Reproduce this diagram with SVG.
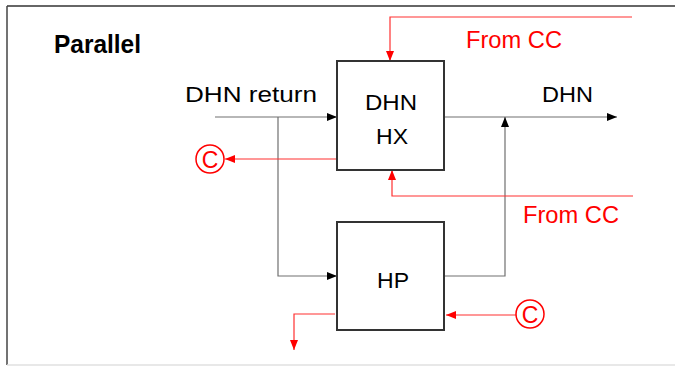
<svg xmlns="http://www.w3.org/2000/svg" width="675" height="366" viewBox="0 0 675 366">
<defs>
<marker id="ab" markerUnits="userSpaceOnUse" markerWidth="10" markerHeight="10" viewBox="0 0 10 10" refX="10" refY="5" orient="auto"><path d="M0,1 L10,5 L0,9 Z" fill="#000"/></marker>
<marker id="ar" markerUnits="userSpaceOnUse" markerWidth="10" markerHeight="10" viewBox="0 0 10 10" refX="10" refY="5" orient="auto"><path d="M0,1 L10,5 L0,9 Z" fill="#ff0000"/></marker>
</defs>
<style>
.t{font-family:"Liberation Sans",Arial,sans-serif;font-size:22px;fill:#000}
.r{font-family:"Liberation Sans",Arial,sans-serif;font-size:23px;fill:#ff0000}
.box{fill:#fff;stroke:#333;stroke-width:2}
.k{fill:none;stroke:#707070;stroke-width:1.2}
.kr{fill:none;stroke:#ff3030;stroke-width:1.2}
.c{fill:#fff;stroke:#ff0000;stroke-width:1.5}
</style>
<rect width="675" height="366" fill="#fff"/>
<line x1="7" y1="6" x2="675" y2="6" stroke="#333" stroke-width="1.5"/>
<line x1="7" y1="6" x2="7" y2="365" stroke="#444" stroke-width="1.5"/>
<line x1="7" y1="365" x2="675" y2="365" stroke="#e0e0e0" stroke-width="1.5"/>
<text x="54" y="53" font-family="Liberation Sans,Arial,sans-serif" font-size="25" font-weight="bold" textLength="87" lengthAdjust="spacingAndGlyphs">Parallel</text>
<g id="connectors">
<path class="k" d="M215,117 H337" marker-end="url(#ab)"/>
<path class="k" d="M278,117 V276 H337" marker-end="url(#ab)"/>
<path class="k" d="M444,117 H617" marker-end="url(#ab)"/>
<path class="k" d="M444,276 H505 V117" marker-end="url(#ab)"/>
<path class="kr" d="M632,17 H390 V61" marker-end="url(#ar)"/>
<path class="kr" d="M633,196 H392 V170" marker-end="url(#ar)"/>
<path class="kr" d="M337,159 H225" marker-end="url(#ar)"/>
<path class="kr" d="M516,315 H446" marker-end="url(#ar)"/>
<path class="kr" d="M335,314 H294 V350" marker-end="url(#ar)"/>
</g>
<g id="hx">
<rect class="box" x="337" y="61" width="107" height="109"/>
<text class="t" x="365" y="110" textLength="52" lengthAdjust="spacingAndGlyphs">DHN</text>
<text class="t" x="376" y="144" textLength="32" lengthAdjust="spacingAndGlyphs">HX</text>
</g>
<g id="hp">
<rect class="box" x="337" y="222" width="107" height="108"/>
<text class="t" x="377" y="288" textLength="32" lengthAdjust="spacingAndGlyphs">HP</text>
</g>
<g id="labels">
<text class="t" x="185" y="102" textLength="132" lengthAdjust="spacingAndGlyphs">DHN return</text>
<text class="t" x="542" y="102" textLength="51" lengthAdjust="spacingAndGlyphs">DHN</text>
<text class="r" x="466" y="48" textLength="96" lengthAdjust="spacingAndGlyphs">From CC</text>
<text class="r" x="523" y="223" textLength="96" lengthAdjust="spacingAndGlyphs">From CC</text>
</g>
<g id="c-left">
<circle class="c" cx="210" cy="159" r="14"/>
<text class="r" x="210" y="167.5" text-anchor="middle" font-size="24">C</text>
</g>
<g id="c-right">
<circle class="c" cx="530" cy="314" r="14"/>
<text class="r" x="530" y="322.5" text-anchor="middle" font-size="24">C</text>
</g>
</svg>
